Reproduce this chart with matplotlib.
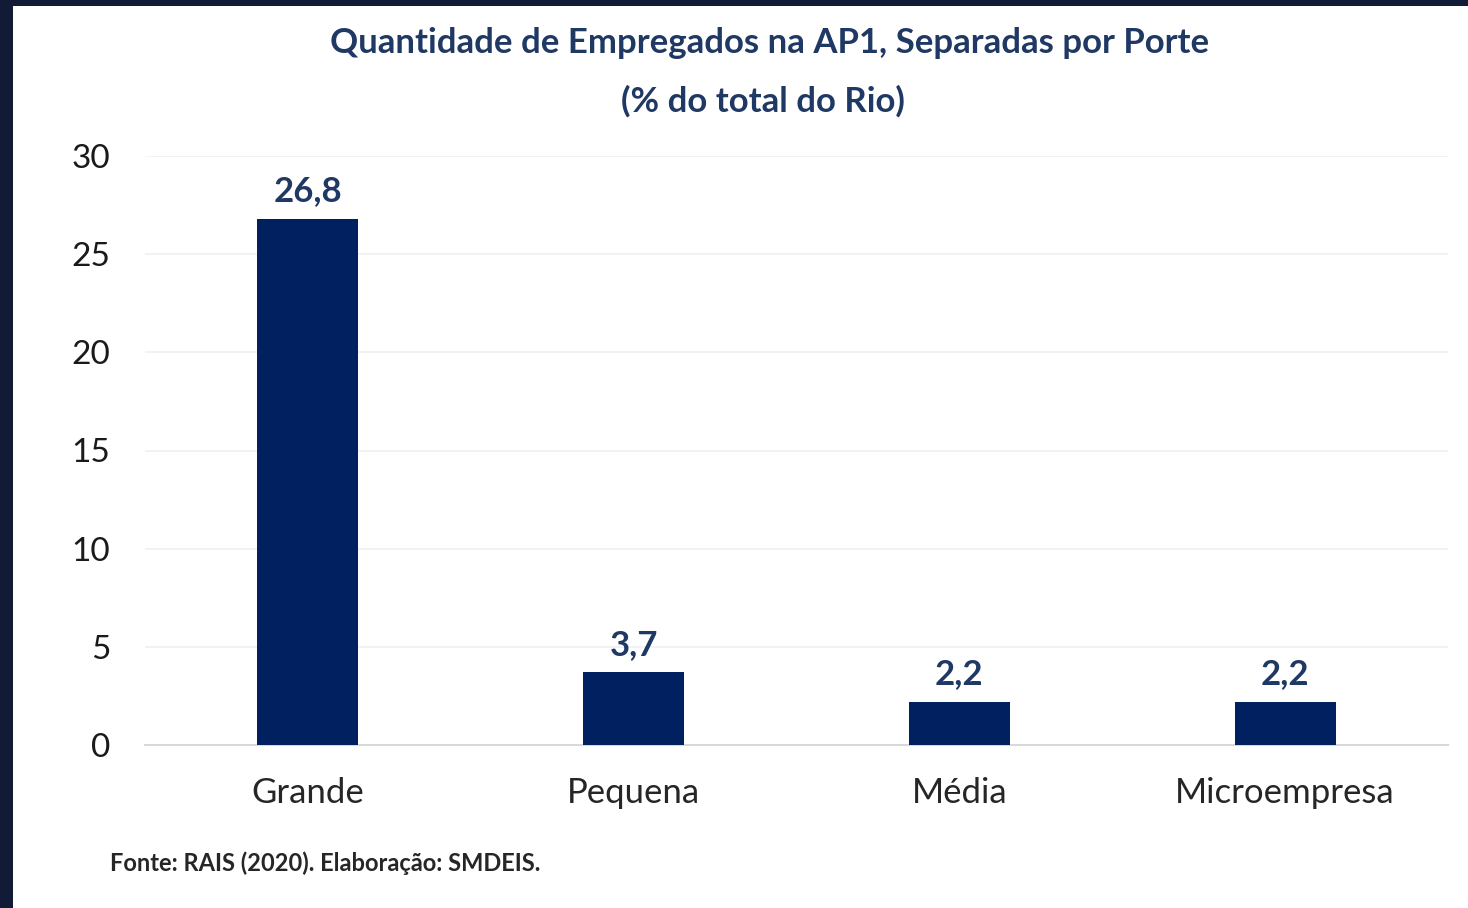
import matplotlib
matplotlib.use('Agg')
import matplotlib.pyplot as plt
from matplotlib.patches import Rectangle

# 데이터
categorias = ["Grande", "Pequena", "Média", "Microempresa"]
valores = [26.8, 3.7, 2.2, 2.2]
rotulos = ["26,8", "3,7", "2,2", "2,2"]
y_ticks = [0, 5, 10, 15, 20, 25, 30]

AZUL = '#002060'
TITULO = '#1f3864'

plt.rcParams['font.family'] = ['Lato', 'DejaVu Sans']

fig = plt.figure(figsize=(14.68, 9.08), dpi=100)
fig.patch.set_facecolor('white')

# moldura escura (esquerda e topo)
W, H = 1468, 908
fig.add_artist(Rectangle((0, 0), 13 / W, 1, transform=fig.transFigure,
                         facecolor='#111b35', edgecolor='none', zorder=10))
fig.add_artist(Rectangle((0, 1 - 6 / H), 1, 6 / H, transform=fig.transFigure,
                         facecolor='#111b35', edgecolor='none', zorder=10))

ax = fig.add_axes([145 / W, 1 - 745 / H, (1448 - 145) / W, (745 - 156) / H])
x = list(range(len(categorias)))
ax.bar(x, valores, width=0.31, color=AZUL, zorder=3)

for xi, v, r in zip(x, valores, rotulos):
    ax.text(xi, v + 0.6, r, ha='center', va='bottom', fontsize=25,
            fontweight='bold', color=TITULO)

ax.set_xlim(-0.5, len(categorias) - 0.5)
ax.set_ylim(0, 30)
ax.set_yticks(y_ticks)
ax.set_yticklabels([str(t) for t in y_ticks], fontsize=24, color='#1a1a1a')
ax.set_xticks(x)
ax.set_xticklabels(categorias, fontsize=25, color='#262626')
ax.tick_params(axis='both', length=0)
ax.tick_params(axis='y', pad=25)
ax.tick_params(axis='x', pad=23)

ax.grid(axis='y', color='#f0f0f0', linewidth=1.2, zorder=0)
for s in ['top', 'right', 'left']:
    ax.spines[s].set_visible(False)
ax.spines['bottom'].set_color('#d9d9d9')
ax.spines['bottom'].set_linewidth(1.5)

fig.text(770 / W, 1 - 43 / H, "Quantidade de Empregados na AP1, Separadas por Porte",
         ha='center', va='center', fontsize=25, fontweight='bold', color=TITULO)
fig.text(763 / W, 1 - 101 / H, "(% do total do Rio)",
         ha='center', va='center', fontsize=25, fontweight='bold', color=TITULO)

fig.text(110 / W, 1 - 863 / H, "Fonte: RAIS (2020). Elaboração: SMDEIS.",
         ha='left', va='center', fontsize=17, fontweight='bold', color='#262626')

fig.savefig('out.png', dpi=100, facecolor='white')
